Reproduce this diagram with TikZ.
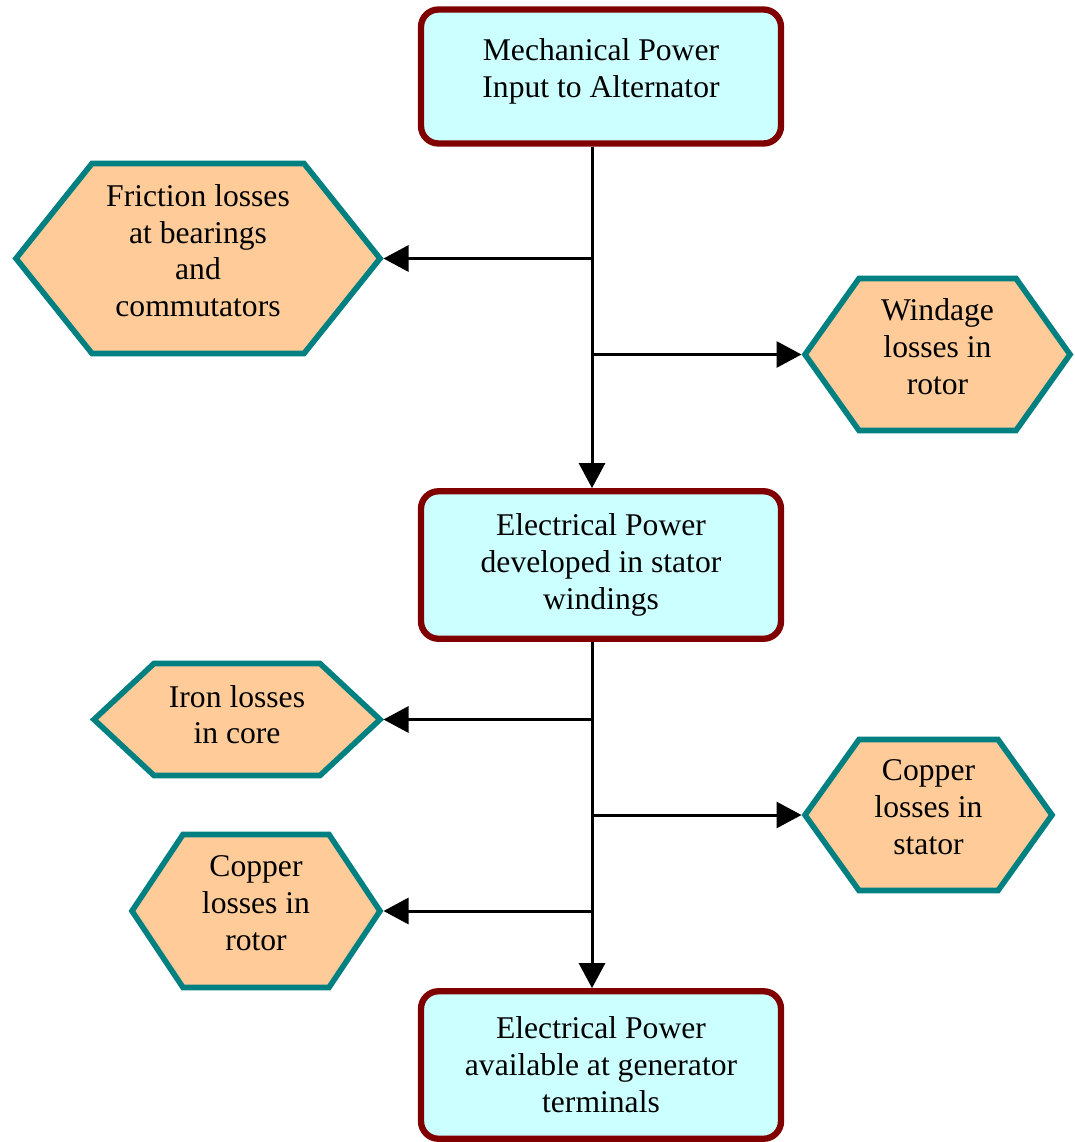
\documentclass[tikz,border=0pt]{standalone}
\usepackage{fontspec}
\setmainfont{Liberation Serif}
\usetikzlibrary{arrows.meta,backgrounds}

\definecolor{powerfill}{HTML}{CCFFFF}
\definecolor{powerline}{HTML}{800000}
\definecolor{lossfill}{HTML}{FFCC99}
\definecolor{lossline}{HTML}{008080}

% hexagon frame round a loss node: #1 node, #2 inset of the slanted sides
\newcommand{\hexframe}[2]{%
  \begin{scope}[on background layer]
    \filldraw[hexborder] (#1.west) -- ([xshift=#2]#1.north west) -- ([xshift=-#2]#1.north east)
      -- (#1.east) -- ([xshift=-#2]#1.south east) -- ([xshift=#2]#1.south west) -- cycle;
  \end{scope}}

\begin{document}
\begin{tikzpicture}[
    powerbox/.style={draw=powerline, fill=powerfill, line width=3.6pt, rounded corners=0.35cm,
      minimum width=7.2cm, align=center, font=\fontsize{18}{21}\selectfont},
    lossbox/.style={outer sep=0pt, inner sep=0pt, align=center, text depth=0.32cm,
      font=\fontsize{18}{21}\selectfont},
    hexborder/.style={draw=lossline, fill=lossfill, line width=3.2pt},
    flow/.style={-{Triangle[length=0.5cm,width=0.52cm]}, line width=1.7pt},
    tohex/.style={flow, shorten >=0.07cm},
  ]
    \useasboundingbox (0,0) rectangle (21.48,-22.84);

    % 功率方框
    \node[powerbox, minimum height=2.68cm, text depth=0.34cm] (mech) at (12.02,-1.53) {Mechanical Power\\Input to Alternator};
    \node[powerbox, minimum height=2.95cm] (elec) at (12.02,-11.30) {Electrical Power\\developed in stator\\windings};
    \node[powerbox, minimum height=2.95cm] (term) at (12.02,-21.30) {Electrical Power\\available at generator\\terminals};

    % 机械损耗
    \node[lossbox, minimum width=7.28cm, minimum height=3.80cm] (fric) at (3.96,-5.17) {Friction losses\\at bearings\\and\\commutators};
    \hexframe{fric}{1.52cm}
    \node[lossbox, minimum width=5.30cm, minimum height=3.04cm] (wind) at (18.75,-7.09) {Windage\\losses in\\rotor};
    \hexframe{wind}{1.08cm}

    % 电气损耗
    \node[lossbox, minimum width=5.72cm, minimum height=2.24cm, text depth=0.2cm] (iron) at (4.74,-14.39) {Iron losses\\in core};
    \hexframe{iron}{1.20cm}
    \node[lossbox, minimum width=4.94cm, minimum height=3.02cm] (cust) at (18.57,-16.30) {Copper\\losses in\\stator};
    \hexframe{cust}{1.08cm}
    \node[lossbox, minimum width=4.96cm, minimum height=3.06cm] (curo) at (5.12,-18.22) {Copper\\losses in\\rotor};
    \hexframe{curo}{1.02cm}

    % 主干和分支箭头
    \coordinate (trunka) at ([xshift=-0.18cm]mech.south);
    \draw[flow] (trunka) -- (trunka |- elec.north);
    \draw[tohex] (trunka |- fric.east) -- (fric.east);
    \draw[tohex] (trunka |- wind.west) -- (wind.west);

    \coordinate (trunkb) at ([xshift=-0.18cm]elec.south);
    \draw[flow] (trunkb) -- (trunkb |- term.north);
    \draw[tohex] (trunkb |- iron.east) -- (iron.east);
    \draw[tohex] (trunkb |- cust.west) -- (cust.west);
    \draw[tohex] (trunkb |- curo.east) -- (curo.east);

\end{tikzpicture}
\end{document}
